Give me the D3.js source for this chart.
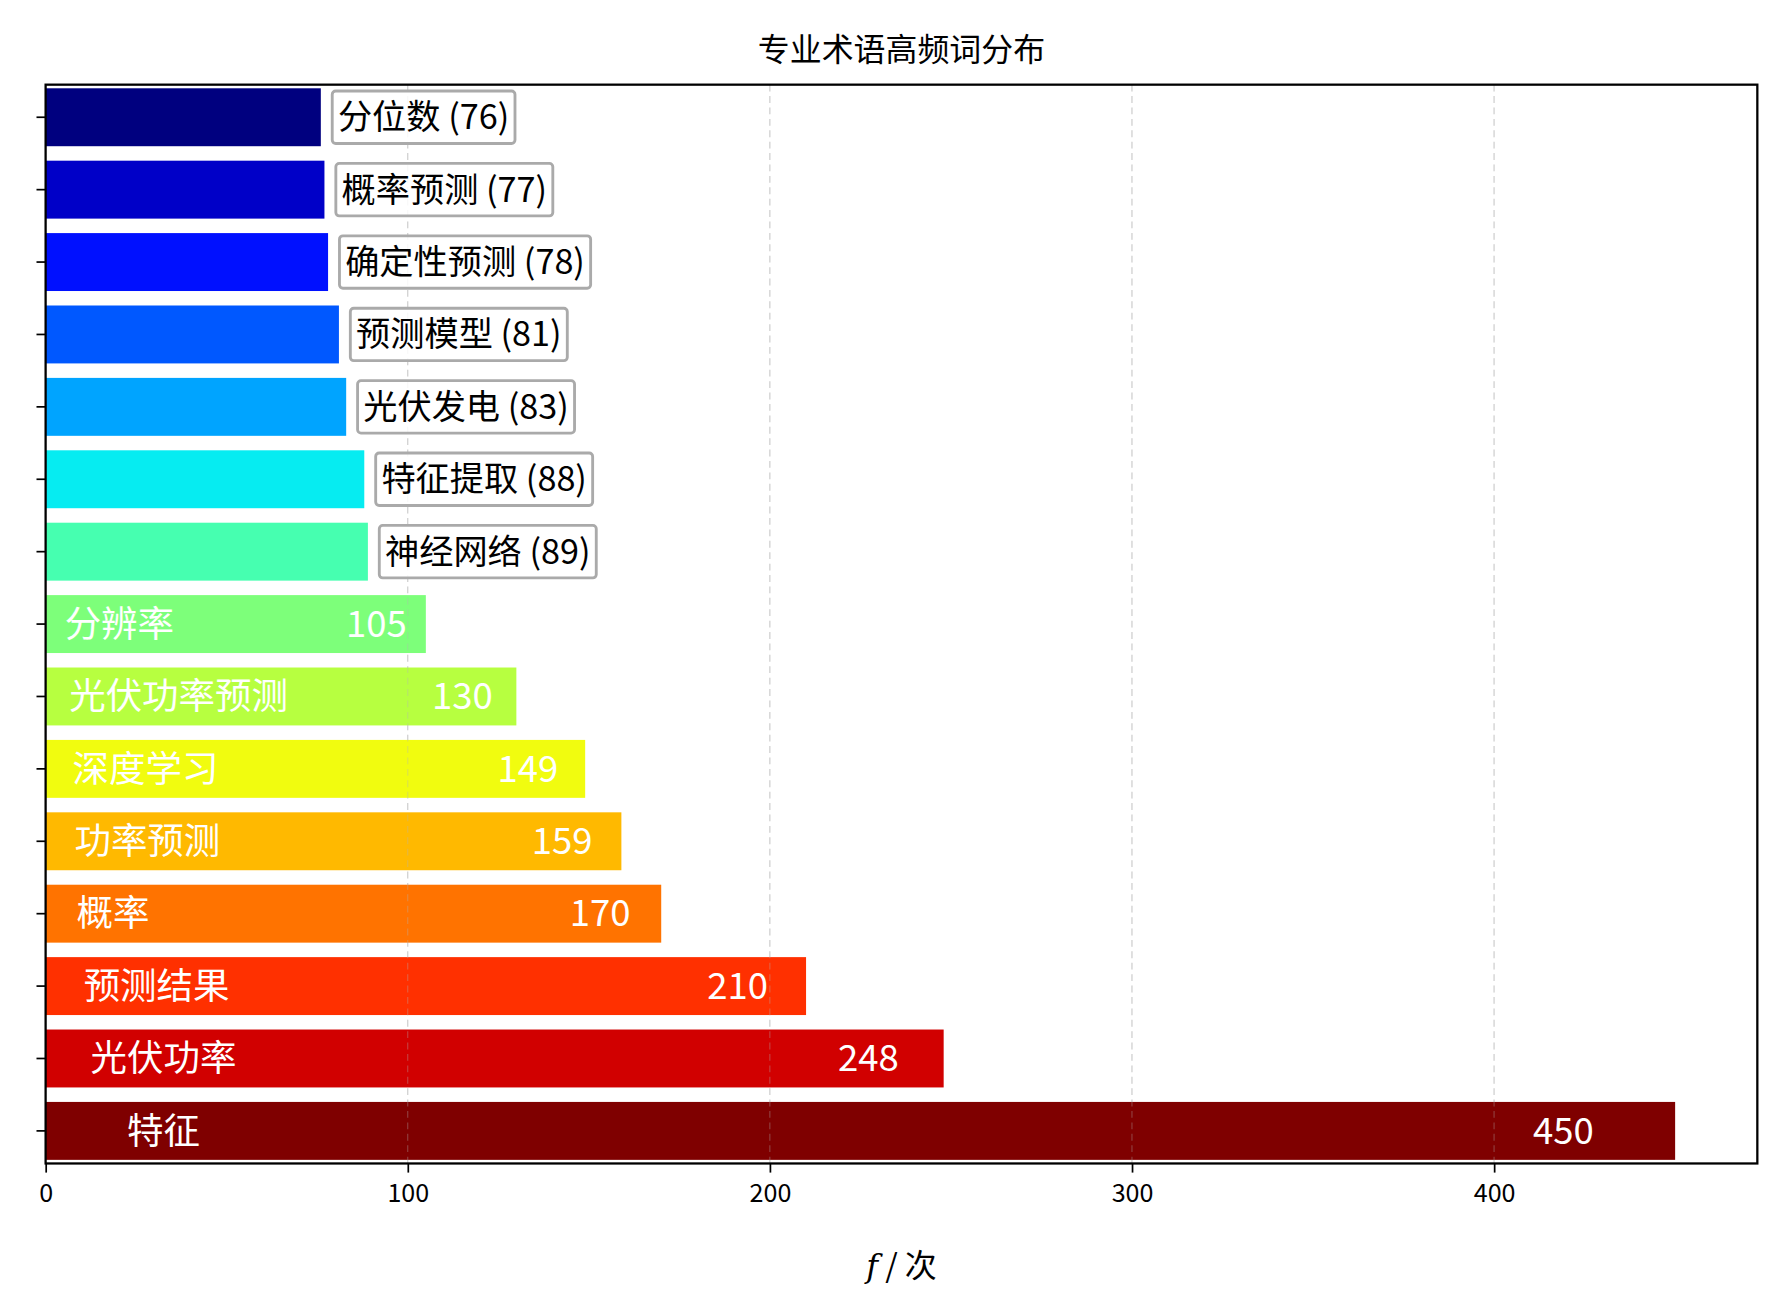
<!DOCTYPE html>
<html><head><meta charset="utf-8">
<script src="https://cdn.jsdelivr.net/npm/d3@7"></script>
<style>body{margin:0;background:#fff}text{font-family:"Noto Sans CJK SC","Noto Sans",sans-serif}</style>
</head><body>
<svg id="chart" width="1779" height="1312" viewBox="0 0 1560 1150"></svg>
<script>
const terms = ["分位数","概率预测","确定性预测","预测模型","光伏发电","特征提取","神经网络","分辨率","光伏功率预测","深度学习","功率预测","概率","预测结果","光伏功率","特征"];
const counts = [76,77,78,81,83,88,89,105,130,149,159,170,210,248,450];
const colors = ["#00007f","#0000c8","#0010ff","#0058ff","#00a4ff","#06ecf1","#46ffb0","#7dff7a","#b7ff40","#f1fc0f","#ffb900","#ff7300","#ff3000","#d10000","#7f0000"];
const xTicks = [0,100,200,300,400];

const svg = d3.select("#chart");
const mLeft = 40, mRight = 1541, mTop = 74, mBottom = 1020;

const x = d3.scaleLinear().domain([0, 472.7]).range([mLeft, mRight]);
const y = d3.scaleBand().domain(terms).range([mTop, mBottom]).paddingInner(0.2).paddingOuter(0.05);

// grid
svg.append("g").selectAll("line").data(xTicks.slice(1)).enter().append("line")
  .attr("x1", d => x(d)).attr("x2", d => x(d)).attr("y1", mTop).attr("y2", mBottom)
  .attr("stroke", "#ddd").attr("stroke-dasharray", "6,4").attr("stroke-width", 1);

svg.append("g").selectAll("rect").data(terms).enter().append("rect")
  .attr("x", x(0)).attr("y", d => y(d))
  .attr("width", (d, i) => x(counts[i]) - x(0)).attr("height", y.bandwidth())
  .attr("fill", (d, i) => colors[i]);

// faint grid over bars
svg.append("g").selectAll("line").data(xTicks.slice(1)).enter().append("line")
  .attr("x1", d => x(d)).attr("x2", d => x(d)).attr("y1", mTop).attr("y2", mBottom)
  .attr("stroke", "rgba(180,180,180,0.35)").attr("stroke-dasharray", "6,4");

const labels = svg.append("g");
terms.forEach((t, i) => {
  const v = counts[i], cy = y(t) + y.bandwidth() / 2;
  if (v < 100) {
    const g = labels.append("g");
    const txt = g.append("text").attr("x", x(v) + 15).attr("y", cy).attr("dy", "0.35em")
      .attr("font-size", 30).attr("fill", "#000").text(`${t} (${v})`);
    const b = txt.node().getBBox();
    g.insert("rect", "text").attr("x", b.x - 5).attr("y", cy - 23)
      .attr("width", b.width + 10).attr("height", 46).attr("rx", 3)
      .attr("fill", "rgba(255,255,255,0.85)").attr("stroke", "#aaa").attr("stroke-width", 2.5);
  } else {
    labels.append("text").attr("x", x(v * 0.05)).attr("y", cy).attr("dy", "0.35em")
      .attr("font-size", 32).attr("fill", "#fff").text(t);
    labels.append("text").attr("x", x(v * 0.95)).attr("y", cy).attr("dy", "0.35em")
      .attr("text-anchor", "end").attr("font-size", 32).attr("fill", "#fff").text(v);
  }
});

svg.append("rect").attr("x", mLeft).attr("y", mTop).attr("width", mRight - mLeft).attr("height", mBottom - mTop)
  .attr("fill", "none").attr("stroke", "#000").attr("stroke-width", 2);

const xa = svg.append("g").attr("transform", `translate(0,${mBottom})`)
  .call(d3.axisBottom(x).tickValues(xTicks).tickSize(8).tickPadding(10));
xa.select(".domain").remove();
xa.selectAll("text").attr("font-size", 22).attr("font-family", '"Noto Sans CJK SC",sans-serif');
xa.selectAll("line").attr("stroke-width", 1.5);

const ya = svg.append("g").attr("transform", `translate(${mLeft},0)`)
  .call(d3.axisLeft(y).tickSize(8).tickFormat(""));
ya.select(".domain").remove();
ya.selectAll("line").attr("stroke-width", 1.5);

const xl = svg.append("text").attr("x", (mLeft + mRight) / 2).attr("y", 1120).attr("text-anchor", "middle").attr("font-size", 28);
xl.append("tspan").attr("font-style", "italic").attr("font-family", "DejaVu Serif").text("f");
xl.append("tspan").text(" / 次");

svg.append("text").attr("x", (mLeft + mRight) / 2).attr("y", 53).attr("text-anchor", "middle")
  .attr("font-size", 28).text("专业术语高频词分布");
</script>
</body></html>
